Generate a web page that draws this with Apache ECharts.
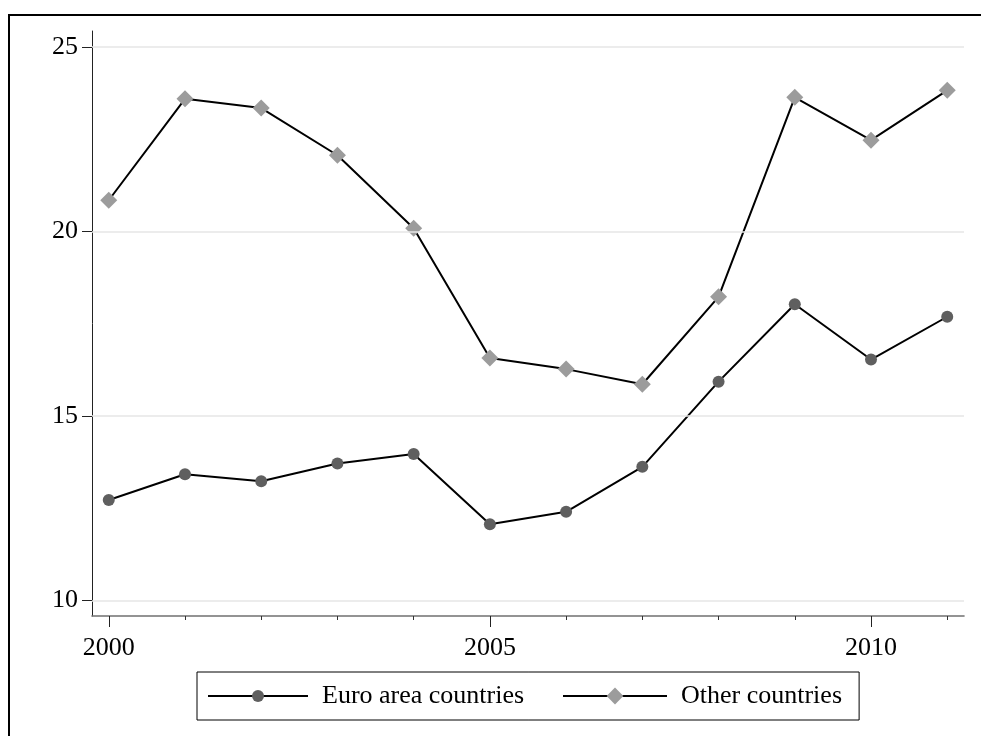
<!DOCTYPE html>
<html>
<head>
<meta charset="utf-8">
<script src="https://cdn.jsdelivr.net/npm/echarts@6/dist/echarts.min.js"></script>
<style>html,body{margin:0;padding:0;background:#fff;}#chart{width:981px;height:736px;}</style>
</head>
<body>
<div id="chart"></div>
<script>
const years = [2000, 2001, 2002, 2003, 2004, 2005, 2006, 2007, 2008, 2009, 2010, 2011];
const euroArea = [12.72, 13.42, 13.23, 13.71, 13.97, 12.06, 12.40, 13.62, 15.93, 18.03, 16.53, 17.69];
const otherCountries = [20.85, 23.60, 23.35, 22.07, 20.09, 16.57, 16.27, 15.86, 18.23, 23.64, 22.48, 23.83];
const yTickValues = [10, 15, 20, 25];
const xLabelYears = [2000, 2005, 2010];
const seriesNames = ['Euro area countries', 'Other countries'];

const FONT = 'Liberation Serif';
const chart = echarts.init(document.getElementById('chart'), null, {renderer: 'canvas'});
const xMin = 1999.78, xMax = 2011.22;
const legendText = {fontFamily: FONT, fontSize: 26, color: '#000', lineHeight: 30, padding: [0, 0, 0, 9]};

const option = {
  backgroundColor: '#fff',
  animation: false,
  graphic: [{
    type: 'rect', shape: {x: 9, y: 15, width: 1100, height: 900},
    style: {fill: 'none', stroke: '#000', lineWidth: 2}, silent: true, z: 100
  }],
  grid: {left: 92, right: 17, top: 31, bottom: 120, outerBoundsMode: 'none', containLabel: false},
  legend: [{
    left: 197, top: 672,
    orient: 'horizontal',
    borderColor: '#000', borderWidth: 1,
    padding: [9, 335, 9, 10],
    itemWidth: 100, itemHeight: 15,
    textStyle: legendText,
    data: [seriesNames[0]]
  }, {
    left: 552, top: 672,
    orient: 'horizontal',
    borderWidth: 0,
    padding: [9, 14, 9, 10],
    itemWidth: 104, itemHeight: 21,
    textStyle: legendText,
    data: [seriesNames[1]]
  }],
  xAxis: [{
    type: 'value', min: xMin, max: xMax, position: 'bottom',
    axisLine: {show: true, lineStyle: {color: '#707070', width: 1.6}},
    axisTick: {show: true, length: 4, customValues: years, lineStyle: {color: '#333', width: 1}},
    axisLabel: {show: false},
    splitLine: {show: false}
  }, {
    type: 'value', min: xMin, max: xMax, position: 'bottom', offset: 0,
    axisLine: {show: false},
    axisTick: {show: true, length: 11, customValues: xLabelYears, lineStyle: {color: '#222', width: 1}},
    axisLabel: {show: true, customValues: xLabelYears, margin: 19, fontFamily: FONT, fontSize: 26, color: '#000',
      formatter: v => String(v)},
    splitLine: {show: false}
  }],
  yAxis: {
    type: 'value', min: 9.574, max: 25.44,
    axisLine: {show: true, lineStyle: {color: '#222', width: 1}},
    axisTick: {show: true, length: 10, customValues: yTickValues, lineStyle: {color: '#222', width: 1}},
    axisLabel: {show: true, customValues: yTickValues, margin: 14, fontFamily: FONT, fontSize: 26, color: '#000',
      formatter: v => String(v)},
    splitLine: {show: false}
  },
  series: [{
    name: 'grid', type: 'line', data: [], z: 1, silent: true,
    markLine: {
      silent: true, symbol: ['none', 'none'], label: {show: false},
      lineStyle: {color: '#e6e6e6', width: 1.6, type: 'solid'},
      emphasis: {disabled: true},
      data: yTickValues.map(v => ({yAxis: v}))
    }
  }, {
    name: seriesNames[0], type: 'line', z: 3,
    data: years.map((y, i) => [y, euroArea[i]]),
    symbol: 'circle', symbolSize: 12,
    itemStyle: {color: '#5f5f5f'},
    lineStyle: {color: '#000', width: 2}
  }, {
    name: seriesNames[1], type: 'line', z: 3,
    data: years.map((y, i) => [y, otherCountries[i]]),
    symbol: 'diamond', symbolSize: 17,
    itemStyle: {color: '#9c9c9c'},
    lineStyle: {color: '#000', width: 2}
  }]
};
chart.setOption(option);
</script>
</body>
</html>
